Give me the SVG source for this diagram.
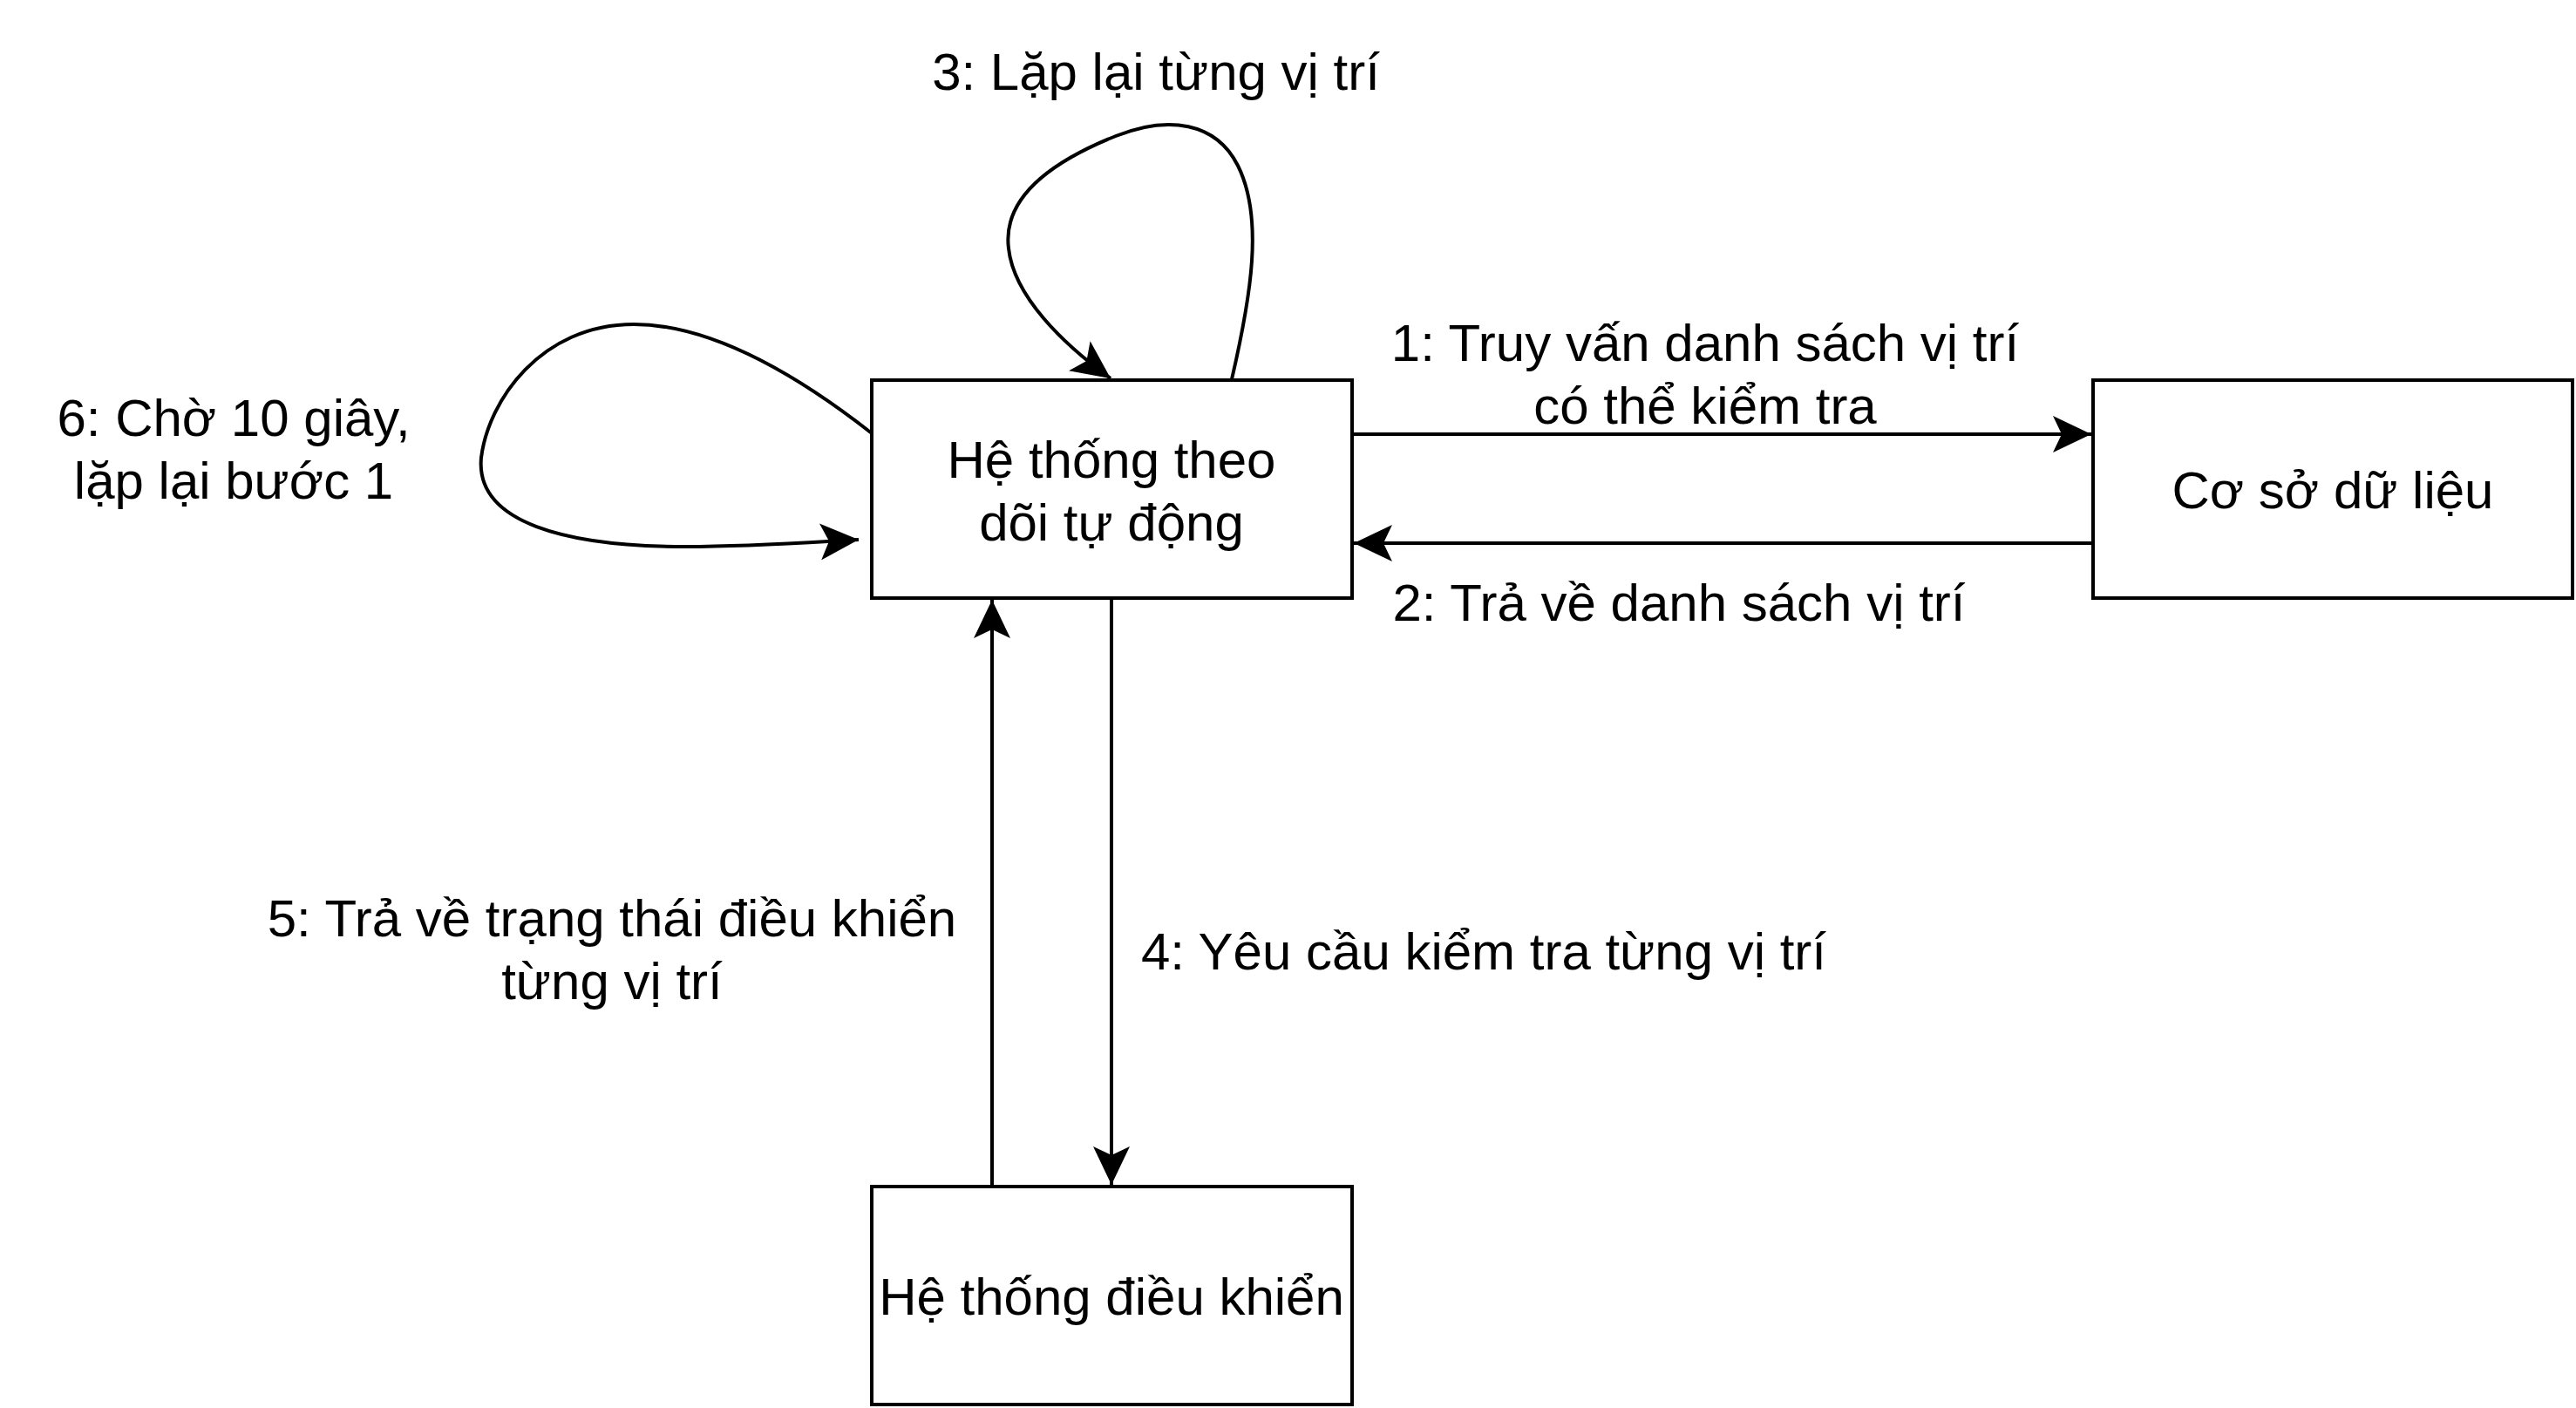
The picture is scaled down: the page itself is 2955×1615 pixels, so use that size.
<svg xmlns="http://www.w3.org/2000/svg" width="2955" height="1615" viewBox="0 0 2955 1615">
<style>
.box{fill:#fff;stroke:#000;stroke-width:4}
.edge{fill:none;stroke:#000;stroke-width:4}
text{font-family:"Liberation Sans",Arial,sans-serif;font-size:60px;fill:#000;text-anchor:middle}
</style>
<defs>
<marker id="arr" markerUnits="userSpaceOnUse" viewBox="0 0 46 42" refX="44" refY="21" markerWidth="46" markerHeight="42" orient="auto">
<path d="M44,21 L0,0 L10,21 L0,42 Z" fill="#000"/>
</marker>
</defs>
<rect width="2955" height="1615" fill="#fff"/>
<g id="connectors">
<path class="edge" d="M1551,498 L2399,498" marker-end="url(#arr)"/>
<path class="edge" d="M2401,623 L1553,623" marker-end="url(#arr)"/>
<path class="edge" d="M1275,686 L1275,1359" marker-end="url(#arr)"/>
<path class="edge" d="M1138,1361 L1138,688" marker-end="url(#arr)"/>
<path class="edge" d="M1413,435 C1435,340 1450,250 1420,190 C1395,140 1340,132 1280,156 C1200,188 1150,230 1157,285 C1163,340 1220,395 1274,434" marker-end="url(#arr)"/>
<path class="edge" d="M1000,497 C940,450 830,372 727,372 C620,372 560,460 552,525 C545,600 650,627 787,627 C860,627 930,622 985,619" marker-end="url(#arr)"/>
</g>
<g id="node-monitor">
<rect class="box" x="1000" y="436" width="551" height="250"/>
<text x="1275" y="548">Hệ thống theo</text>
<text x="1275" y="620">dõi tự động</text>
</g>
<g id="node-db">
<rect class="box" x="2401" y="436" width="550" height="250"/>
<text x="2676" y="583">Cơ sở dữ liệu</text>
</g>
<g id="node-control">
<rect class="box" x="1000" y="1361" width="551" height="250"/>
<text x="1275" y="1508">Hệ thống điều khiển</text>
</g>
<g id="labels">
<text x="1956" y="414">1: Truy vấn danh sách vị trí</text>
<text x="1956" y="486">có thể kiểm tra</text>
<text x="1926" y="712">2: Trả về danh sách vị trí</text>
<text x="1326" y="103">3: Lặp lại từng vị trí</text>
<text x="1702" y="1112">4: Yêu cầu kiểm tra từng vị trí</text>
<text x="702" y="1074">5: Trả về trạng thái điều khiển</text>
<text x="702" y="1146">từng vị trí</text>
<text x="268" y="500">6: Chờ 10 giây,</text>
<text x="268" y="572">lặp lại bước 1</text>
</g>
</svg>
